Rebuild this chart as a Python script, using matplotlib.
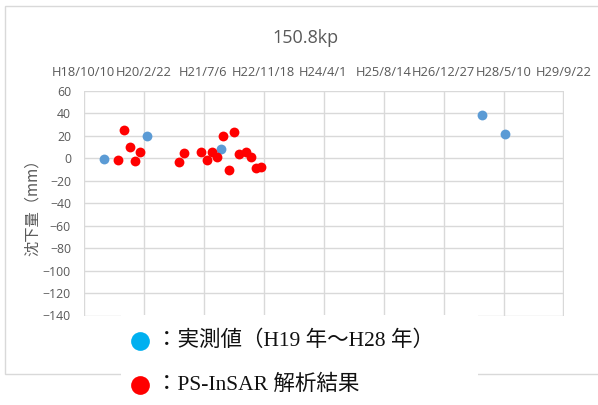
import matplotlib.pyplot as plt
import pandas as pd
from matplotlib.lines import Line2D
from matplotlib.patches import Rectangle

# measured values (実測値)
meas_dates = ['2007-04-01', '2008-03-20', '2009-11-26', '2015-11-15', '2016-05-25']
meas_vals = [-1, 20, 8, 39, 22]

# PS-InSAR results
sar_dates = ['2007-07-24', '2007-09-15', '2007-11-01', '2007-12-13', '2008-01-26',
             '2008-12-16', '2009-01-27', '2009-06-15', '2009-08-04', '2009-09-15',
             '2009-10-29', '2009-12-18', '2010-02-01', '2010-03-20', '2010-04-30',
             '2010-06-22', '2010-08-03', '2010-09-16', '2010-10-31']
sar_vals = [-1.5, 25, 10, -2.5, 5.6, -3.6, 4.4, 5.6, -1.8, 5.3,
            0.9, 20, -10, 23.7, 3.8, 5.6, 1.2, -8.6, -8]

tick_labels = ['H18/10/10', 'H20/2/22', 'H21/7/6', 'H22/11/18', 'H24/4/1',
               'H25/8/14', 'H26/12/27', 'H28/5/10', 'H29/9/22']
y_ticks = list(range(-140, 61, 20))

grey = '#595959'
W, H = 598, 405
fig = plt.figure(figsize=(W / 100, H / 100), dpi=100)

# chart frame
fig.add_artist(Rectangle((5 / W, 1 - 374 / H), 600 / W, 368 / H, transform=fig.transFigure,
                         facecolor='white', edgecolor='#D9D9D9', lw=1, zorder=0))

ax = fig.add_axes([83.5 / W, 1 - 315.5 / H, 480 / W, 224.5 / H])
ax.set_facecolor('none')

tick_dates = pd.date_range('2006-10-10', periods=len(tick_labels), freq='500D')
ax.set_xlim(tick_dates[0], tick_dates[-1])
ax.set_ylim(-140, 60)
ax.set_xticks(tick_dates)
ax.set_xticklabels(tick_labels)
ax.set_yticks(y_ticks)
ax.xaxis.tick_top()
ax.tick_params(axis='both', length=0, colors=grey)
ax.tick_params(axis='x', pad=9, labelsize=9.3)
ax.tick_params(axis='y', pad=9, labelsize=8.8)
for lab in ax.get_xticklabels() + ax.get_yticklabels():
    lab.set_fontfamily('Open Sans')
for s in ax.spines.values():
    s.set_visible(False)
ax.grid(True, color='#D9D9D9', lw=1)
ax.set_axisbelow(True)

ax.scatter(pd.to_datetime(meas_dates), meas_vals, s=50, color='#5B9BD5', zorder=3, lw=0)
ax.scatter(pd.to_datetime(sar_dates), sar_vals, s=50, color='#FF0000', zorder=3, lw=0)

ax.set_ylabel('沈下量（mm）', family=['Noto Sans CJK JP', 'DejaVu Sans'],
              fontsize=11, color=grey)
ax.yaxis.set_label_coords((41 - 83.5) / 480, 0.5)
fig.text(305 / W, 1 - 38 / H, '150.8kp', ha='center', va='center',
         fontsize=13, color=grey, family='Open Sans')

# legend block
fig.add_artist(Rectangle((121 / W, 0), 357 / W, 1 - 315 / H, transform=fig.transFigure,
                         facecolor='white', edgecolor='none', zorder=5))
jp = ['Liberation Serif', 'Noto Sans CJK JP']
for yy, col, txt in [(341, '#00B0F0', '：実測値（H19 年～H28 年）'),
                     (385, '#FF0000', '：PS-InSAR 解析結果')]:
    fig.add_artist(Line2D([140 / W], [1 - yy / H], marker='o', ms=13.5, color=col,
                          mec='none', transform=fig.transFigure, zorder=6))
    fig.text(156 / W, 1 - yy / H, txt, ha='left', va='center', fontsize=15.5,
             family=jp, color='#111111', zorder=6)

fig.savefig('out.png', dpi=100)
